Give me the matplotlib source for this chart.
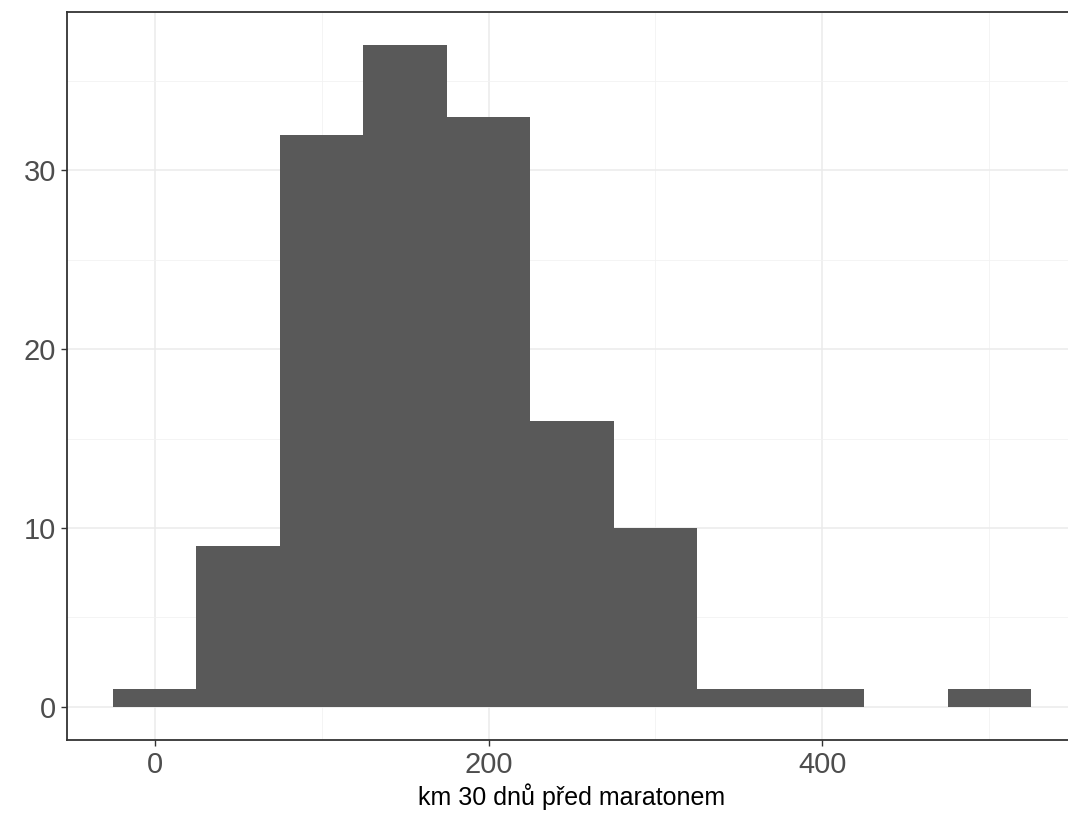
import matplotlib
matplotlib.use('Agg')
import matplotlib.pyplot as plt
from matplotlib.ticker import MultipleLocator

# histogram bins (centres, width 50) and counts
bin_centers = [0, 50, 100, 150, 200, 250, 300, 350, 400, 450, 500]
counts = [1, 9, 32, 37, 33, 16, 10, 1, 1, 0, 1]
bin_width = 50
x_label = 'km 30 dnů před maratonem'

plt.rcParams['font.family'] = ['Liberation Sans', 'DejaVu Sans']

fig = plt.figure(figsize=(10.68, 8.18), dpi=100)
ax = fig.add_axes([67 / 1068, 78 / 818, 1010 / 1068, 728 / 818])

ax.bar(bin_centers, counts, width=bin_width, color='#595959', linewidth=0, zorder=3)

lo = bin_centers[0] - bin_width / 2
hi = bin_centers[-1] + bin_width / 2
pad = (hi - lo) * 0.05
ax.set_xlim(lo - pad, hi + pad)
ymax = max(counts)
ax.set_ylim(-ymax * 0.05, ymax * 1.05)

ax.xaxis.set_major_locator(MultipleLocator(200))
ax.xaxis.set_minor_locator(MultipleLocator(100))
ax.yaxis.set_major_locator(MultipleLocator(10))
ax.yaxis.set_minor_locator(MultipleLocator(5))

ax.grid(True, which='major', color='#EBEBEB', linewidth=1.1, zorder=0)
ax.grid(True, which='minor', color='#F2F2F2', linewidth=0.6, zorder=0)
ax.set_axisbelow(True)

ax.tick_params(which='major', length=4, width=1, color='#333333',
               labelsize=21, labelcolor='#4D4D4D', pad=4)
ax.tick_params(which='minor', length=0)

for s in ax.spines.values():
    s.set_color('#333333')
    s.set_linewidth(1.3)
# panel is cut off on the right in the original
ax.spines['right'].set_visible(False)

ax.set_xlabel(x_label, fontsize=18, color='black', labelpad=3)

fig.savefig('out.png', dpi=100)
